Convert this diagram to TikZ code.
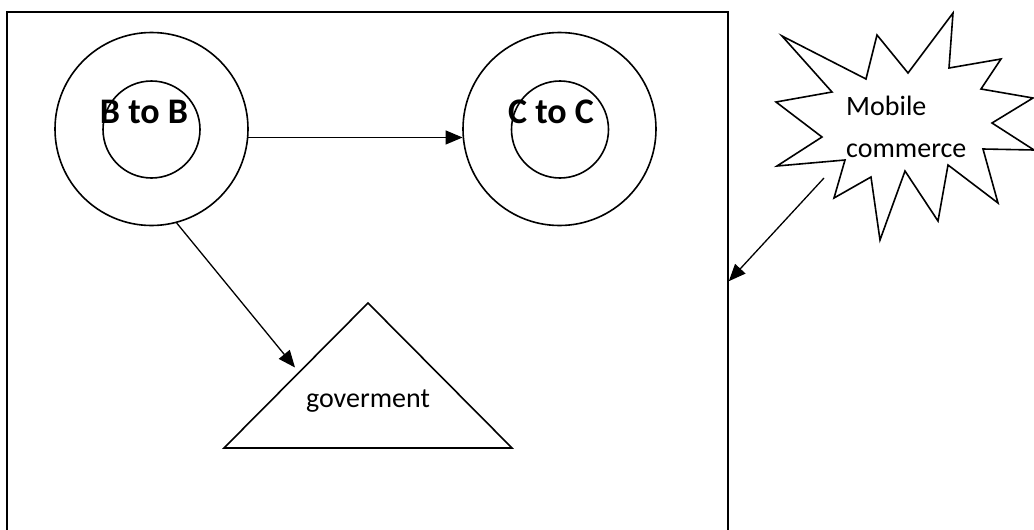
\documentclass[tikz,border=0pt]{standalone}
\usepackage{fontspec}
\setmainfont{Carlito}
\usetikzlibrary{arrows.meta, calc, positioning}
\tikzset{
  ring/.style={draw, circle, line width=1.6pt, inner sep=0pt},
  bigtxt/.style={font=\fontsize{36}{43}\selectfont\bfseries, inner sep=0pt, anchor=base},
  smalltxt/.style={font=\fontsize{28}{42}\selectfont, inner sep=0pt},
  flow/.style={-{Triangle[length=17pt,width=14pt]}, line width=1.3pt}
}

\begin{document}
\begin{tikzpicture}[x=1pt, y=-1pt, line join=miter]
  \useasboundingbox (0,0) rectangle (1034,530);
  % frame
  \node[draw, line width=1.6pt, inner sep=0pt, minimum width=721pt,
        minimum height=548pt] (frame) at (367.5,286) {};
  \path (frame.north east) ++(0,270) coordinate (frameport);
  % rings
  \node[ring, minimum size=193pt] (btobout) at (151.5,129) {};
  \node[ring, minimum size=97pt] (btobin) at (151.5,129.5) {};
  \node[bigtxt] (btobtxt) at (144,123) {B to B};
  \node[ring, minimum size=193pt] (ctocout) at (559.5,129) {};
  \node[ring, minimum size=97pt] (ctocin) at (560,129.5) {};
  \node[bigtxt] (ctoctxt) at (551,123) {C to C};
  % government triangle
  \coordinate (govleft) at (224,448);
  \coordinate (govapex) at (368,303);
  \coordinate (govright) at (512,448);
  \draw[line width=1.6pt] (govleft) -- (govapex) -- (govright) -- cycle;
  \node[smalltxt, anchor=base] (govtxt) at (368,407) {goverment};
  \coordinate (govport) at ($(govleft)!0.5!(govapex)+(-1,-8)$);
  % starburst
  \draw[line width=1.6pt] (782,36) -- (866,79) -- (877,35) -- (908,73) -- (953,13)
    -- (949,68) -- (1001,59) -- (981,89) -- (1033,98) -- (992,123) -- (1034,150)
    -- (983,149) -- (998,203) -- (948,165) -- (938,221) -- (905,171) -- (880,240)
    -- (871,177) -- (834,198) -- (845,160) -- (777,166) -- (822,137) -- (776,102)
    -- (832,92) -- cycle;
  \node[smalltxt, align=left, anchor=base west] (mcomtxt) at (846,157) {Mobile\\commerce};
  \coordinate (mcomtail) at (824,178);
  % arrows
  \draw[flow] (btobout.-5) -- (ctocout.185);
  \draw[flow] (btobout.-75) -- (govport);
  \draw[flow] (mcomtail) -- (frameport);
\end{tikzpicture}
\end{document}
